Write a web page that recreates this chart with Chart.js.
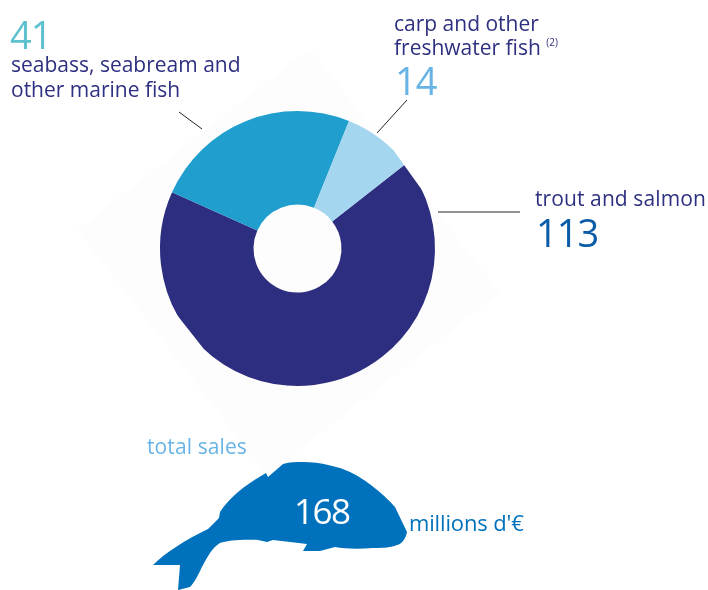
<!DOCTYPE html>
<html>
<head>
<meta charset="utf-8">
<script src="https://cdn.jsdelivr.net/npm/chart.js@4"></script>
<style>
  html, body { margin: 0; padding: 0; background: #fff; }
  #wrap { position: relative; width: 708px; height: 590px; overflow: hidden; font-family: "Open Sans", sans-serif; }
  #pie { position: absolute; left: 0; top: 0; }
  .t { position: absolute; white-space: nowrap; line-height: 1; }
  .label { color: #2e3081; font-size: 21px; letter-spacing: 0; }
  .num { font-size: 38px; letter-spacing: -1px; }
  sup { font-size: 10px; vertical-align: 9px; line-height: 0; letter-spacing: 0; }
  svg { position: absolute; left: 0; top: 0; }
</style>
</head>
<body>
<div id="wrap">
  <canvas id="pie" width="708" height="590"></canvas>

  <!-- poisson + total -->
  <svg width="708" height="590">
    <path fill="#0071bc" d="M153 565 C165 553 185 540 208 529 L219 518 L220 512 C228 500 240 488 266 473 L268 477 L283 464 C290 462 296 462 303 462 C320 462 340 467 350 472 C365 479 385 495 395 507 L407 532 C406 538 402 544 397 545 C390 548 380 548 373 548 C360 549 345 549 335 547 L320 551 L303 551 L307 544 L290 542 L273 540 L267 542 L258 540 C245 539 228 540 220 543 C212 548 208 556 203 565 C198 575 195 582 190 587 L178 590 L180 565 Z"/>
  </svg>

  <div class="t num" style="left:10px;top:15px;color:#5fc0cf">41</div>
  <div class="t label" style="left:11px;top:54px">seabass, seabream and</div>
  <div class="t label" style="left:11px;top:79px">other marine fish</div>

  <div class="t label" style="left:394px;top:13px">carp and other</div>
  <div class="t label" style="left:394px;top:37px">freshwater fish <sup>(2)</sup></div>
  <div class="t num" style="left:395px;top:61px;color:#68b3e6">14</div>

  <div class="t label" style="left:535px;top:188px;letter-spacing:0.1px">trout and salmon</div>
  <div class="t num" style="left:536px;top:213px;color:#0a5ca8">113</div>

  <div class="t" style="left:147px;top:436px;font-size:21px;letter-spacing:0.1px;color:#68b3e6">total sales</div>
  <div class="t" style="left:294px;top:493px;font-size:35px;letter-spacing:-1.5px;color:#fff">168</div>
  <div class="t" style="left:409px;top:511px;font-size:22px;letter-spacing:-0.15px;color:#0071bc">millions d'€</div>
</div>

<script>
// donnees
const categories = ["trout and salmon", "seabass, seabream and other marine fish", "carp and other freshwater fish"];
const salesValues = [113, 41, 14];
const sliceColors = ["#2e2e80", "#209fcf", "#a5d6ef"];

// carre tres pale derriere le donut, traits de rappel, bords coupes du donut
const backdrop = {
  id: "backdrop",
  beforeDraw(chart) {
    const c = chart.ctx;
    c.save();
    c.fillStyle = "#fdfdfd";
    c.beginPath();
    c.moveTo(310, 48);
    c.lineTo(500, 293);
    c.lineTo(267, 475);
    c.lineTo(77, 230);
    c.closePath();
    c.fill();
    c.restore();
  },
  beforeDatasetsDraw(chart) {
    const c = chart.ctx;
    c.save();
    c.beginPath();
    [[0, 0], [360, 0], [394, 151], [422, 190], [708, 190], [708, 590], [250, 590], [203, 348], [177, 315], [0, 200]]
      .forEach((p, i) => (i ? c.lineTo(p[0], p[1]) : c.moveTo(p[0], p[1])));
    c.closePath();
    c.clip();
  },
  afterDatasetsDraw(chart) {
    chart.ctx.restore();
  },
  afterDraw(chart) {
    const c = chart.ctx;
    c.save();
    c.strokeStyle = "#222";
    c.lineWidth = 1;
    [[179, 112, 202, 129], [407, 100, 377, 133], [438, 212, 520, 212]].forEach(l => {
      c.beginPath();
      c.moveTo(l[0], l[1]);
      c.lineTo(l[2], l[3]);
      c.stroke();
    });
    c.restore();
  }
};

new Chart(document.getElementById("pie"), {
  type: "doughnut",
  data: {
    labels: categories,
    datasets: [{ data: salesValues, backgroundColor: sliceColors, borderWidth: 0, hoverOffset: 0 }]
  },
  options: {
    responsive: false,
    animation: false,
    rotation: 52,
    cutout: "32%",
    layout: { padding: { left: 160, top: 111, right: 273, bottom: 204 } },
    plugins: { legend: { display: false }, tooltip: { enabled: false } }
  },
  plugins: [backdrop]
});
</script>
</body>
</html>
